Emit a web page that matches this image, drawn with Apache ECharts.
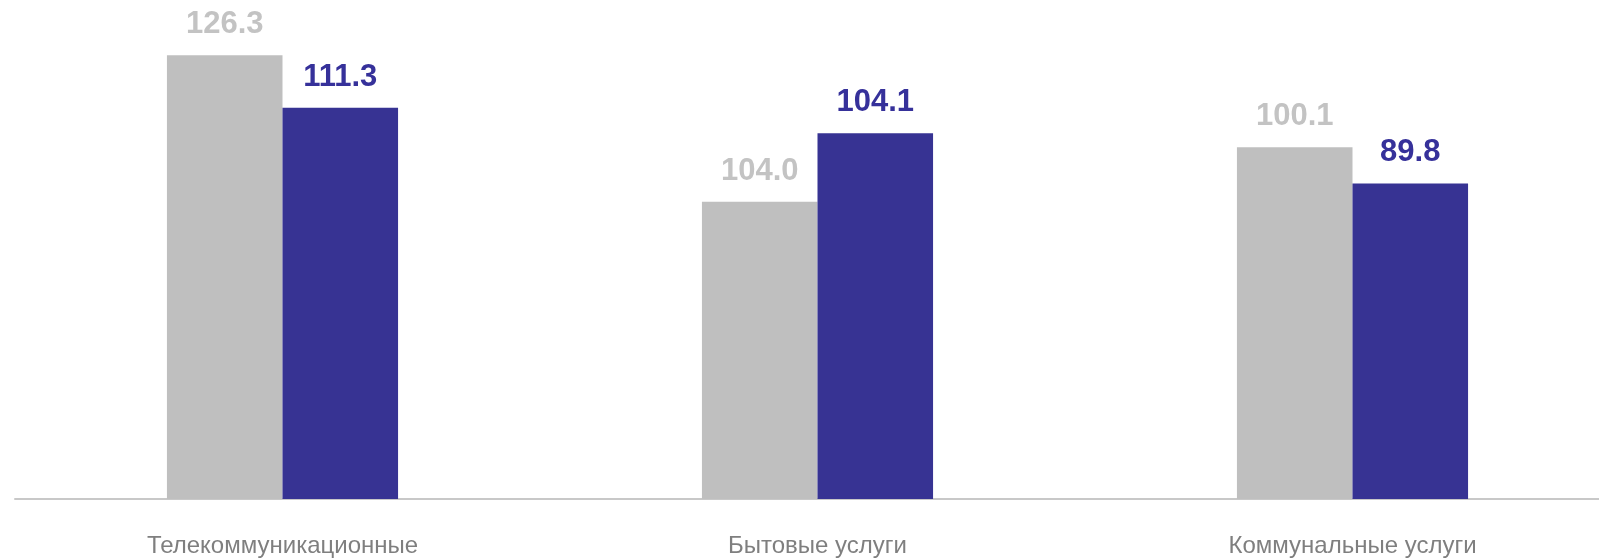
<!DOCTYPE html>
<html>
<head>
<meta charset="utf-8">
<script src="https://cdn.jsdelivr.net/npm/echarts@6/dist/echarts.min.js"></script>
<style>
html,body{margin:0;padding:0;background:#fff;overflow:hidden;width:1599px;height:558px;}
#chart{width:1620px;height:558px;}
</style>
</head>
<body>
<div id="chart"></div>
<script>
var categories = ['Телекоммуникационные', 'Бытовые услуги', 'Коммунальные услуги'];
// bar heights as drawn in the picture
var seriesGray = [126.3, 84.6, 100.1];
var seriesBlue = [111.3, 104.1, 89.8];
// value labels as printed in the picture
var labelsGray = ['126.3', '104.0', '100.1'];
var labelsBlue = ['111.3', '104.1', '89.8'];

var chart = echarts.init(document.getElementById('chart'));
chart.setOption({
  animation: false,
  grid: {left: 15, right: 0, top: 7, bottom: 58, containLabel: false},
  xAxis: {
    type: 'category',
    data: categories,
    axisLine: {show: true, lineStyle: {color: '#c8c8c8', width: 2}},
    axisTick: {show: false},
    axisLabel: {
      color: '#7f7f7f',
      fontFamily: 'Liberation Sans, Arial, sans-serif',
      fontSize: 24,
      margin: 35,
      interval: 0
    }
  },
  yAxis: {
    type: 'value',
    min: 0,
    max: 140,
    show: false,
    splitLine: {show: false}
  },
  series: [
    {
      type: 'bar',
      data: seriesGray,
      barGap: '0%',
      barCategoryGap: '56.8%',
      itemStyle: {color: '#bfbfbf'},
      label: {
        show: true,
        position: 'top',
        distance: 15,
        color: '#c3c3c3',
        fontWeight: 'bold',
        fontSize: 31,
        fontFamily: 'Liberation Sans, Arial, sans-serif',
        formatter: function (p) { return labelsGray[p.dataIndex]; }
      }
    },
    {
      type: 'bar',
      data: seriesBlue,
      itemStyle: {color: '#373393'},
      label: {
        show: true,
        position: 'top',
        distance: 15,
        color: '#36319a',
        fontWeight: 'bold',
        fontSize: 31,
        fontFamily: 'Liberation Sans, Arial, sans-serif',
        formatter: function (p) { return labelsBlue[p.dataIndex]; }
      }
    }
  ]
});
</script>
</body>
</html>
